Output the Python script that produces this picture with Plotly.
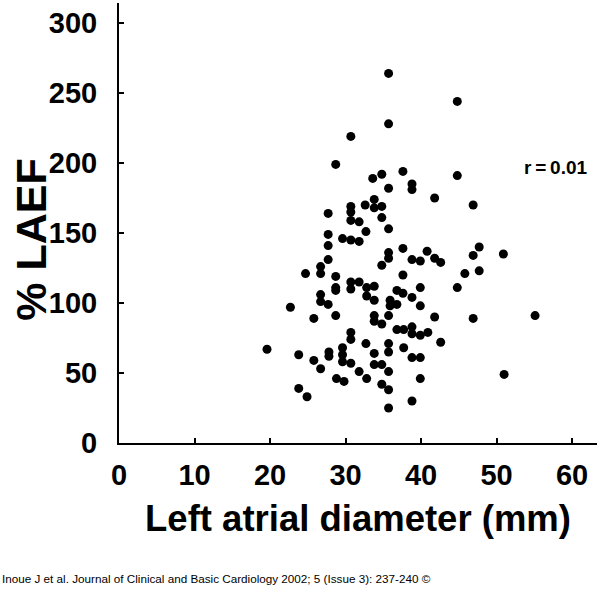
import plotly.graph_objects as go

# Left atrial diameter (mm)
la_diameter = [
    35.7, 44.8, 35.7, 30.7, 28.7, 37.6, 34.8, 33.6, 44.8, 38.8,
    38.8, 35.7, 41.8, 33.8, 46.9, 30.7, 30.7, 32.6, 33.8, 34.8,
    27.7, 34.8, 30.7, 31.8, 32.7, 35.7, 27.7, 27.7, 29.6, 30.7,
    31.8, 37.6, 40.8, 47.7, 35.7, 35.7, 34.8, 38.8, 39.9, 41.8,
    42.6, 46.9, 50.9, 27.7, 26.7, 26.7, 24.7, 28.7, 28.7, 28.7,
    30.7, 31.8, 32.8, 33.8, 30.7, 37.6, 45.8, 47.7, 39.9, 44.8,
    26.7, 26.7, 27.7, 32.8, 33.8, 36.8, 37.6, 38.8, 35.9, 36.8,
    35.9, 39.9, 22.7, 25.8, 28.7, 33.8, 33.8, 34.8, 35.7, 41.8,
    46.9, 55.1, 36.8, 37.7, 38.8, 38.8, 39.9, 40.9, 30.7, 30.7,
    32.7, 35.7, 35.7, 37.7, 42.6, 29.6, 29.6, 29.6, 30.7, 33.8,
    33.8, 34.8, 35.7, 31.8, 32.8, 28.8, 29.8, 34.8, 35.7, 35.7,
    38.8, 39.9, 39.9, 51.0, 38.8, 19.6, 23.8, 25.8, 26.7, 27.8,
    27.8, 23.8, 24.9,
]

# % LAEF
laef = [
    264, 244, 228, 219, 199, 194, 192, 189, 191, 185,
    181, 182, 175, 174, 170, 169, 165, 170, 168, 169,
    164, 161, 159, 158, 151, 153, 149, 141, 146, 145,
    144, 139, 137, 140, 136, 132, 127, 131, 130, 132,
    129, 134, 135, 131, 126, 121, 121, 119, 111, 109,
    115, 115, 111, 112, 110, 120, 121, 123, 111, 111,
    106, 101, 99, 105, 102, 109, 107, 104, 102, 99,
    98, 98, 97, 89, 91, 91, 87, 85, 91, 90,
    89, 91, 81, 81, 83, 78, 77, 79, 79, 74,
    71, 71, 65, 68, 72, 68, 63, 58, 57, 64,
    56, 56, 51, 51, 46, 46, 44, 42, 38, 25,
    61, 61, 46, 49, 30, 67, 63, 59, 53, 65,
    62, 39, 33,
]

x_ticks = [0, 10, 20, 30, 40, 50, 60]
y_ticks = [0, 50, 100, 150, 200, 250, 300]

FONT = "Liberation Sans, Arial, sans-serif"

fig = go.Figure()
fig.add_trace(go.Scatter(
    x=la_diameter, y=laef, mode="markers",
    marker=dict(color="black", size=9, line=dict(width=0)),
    showlegend=False, hoverinfo="x+y",
))

fig.update_layout(
    width=600, height=604,
    margin=dict(l=119, r=3, t=3, b=161, autoexpand=False),
    paper_bgcolor="white", plot_bgcolor="white",
    font=dict(family=FONT, color="black"),
    xaxis=dict(
        range=[0, 63.3], tickvals=x_ticks, showgrid=False, zeroline=False,
        showline=True, linecolor="black", linewidth=2, automargin=False,
        ticks="inside", ticklen=5, tickwidth=1.5, tickcolor="black",
        tickfont=dict(size=29, family=FONT, weight="bold"),
        ticklabelstandoff=5,
        title=dict(text="Left atrial diameter (mm)",
                   font=dict(size=36.5, family=FONT, weight="bold"), standoff=16),
    ),
    yaxis=dict(
        range=[0, 314.3], tickvals=y_ticks, showgrid=False, zeroline=False,
        showline=True, linecolor="black", linewidth=2, automargin=False,
        ticks="inside", ticklen=5, tickwidth=1.5, tickcolor="black",
        tickfont=dict(size=29, family=FONT, weight="bold"),
        ticklabelstandoff=14,
    ),
    annotations=[
        dict(x=-0.184, y=0.462, xref="paper", yref="paper", text="% LAEF", textangle=-90,
             showarrow=False, xanchor="center", yanchor="middle",
             font=dict(size=43, family=FONT, weight="bold")),
        dict(x=57.9, y=197, xref="x", yref="y", text="r\u2009=\u20090.01", showarrow=False,
             font=dict(size=19, family=FONT, weight="bold")),
        dict(x=-0.2490, y=-0.309, xref="paper", yref="paper", xanchor="left", yanchor="middle",
             text="Inoue J et al. Journal of Clinical and Basic Cardiology 2002; 5 (Issue 3): 237-240 ©",
             showarrow=False, font=dict(size=11.7, family=FONT)),
    ],
)

fig.write_html("out.html", config={"displayModeBar": False},
               post_script="document.body.style.margin='0';document.body.style.overflow='hidden';")
